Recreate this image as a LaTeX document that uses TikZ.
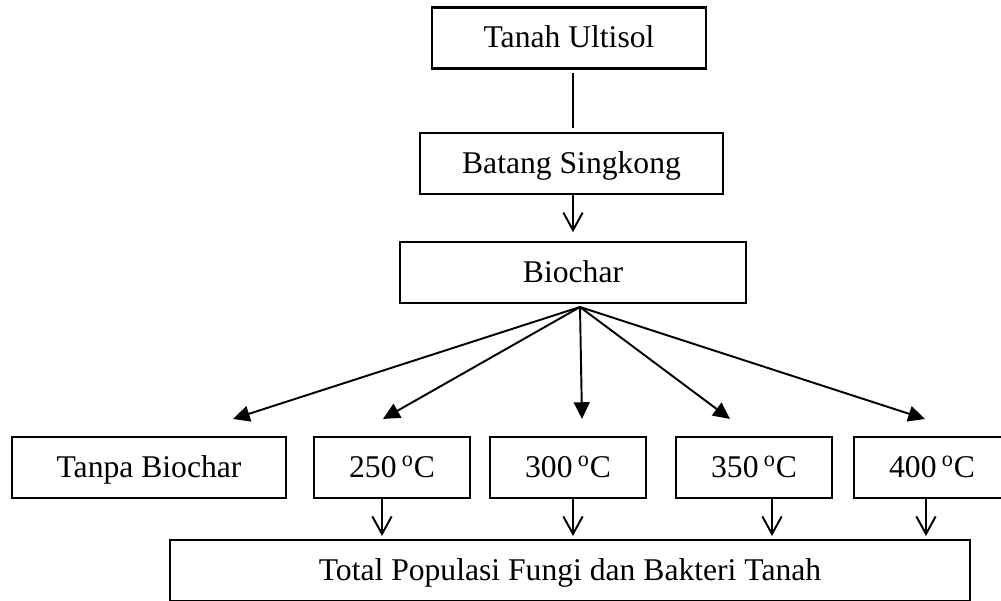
\documentclass[tikz,border=0pt]{standalone}
\usepackage{fontspec}
\setmainfont{Liberation Serif}
\usetikzlibrary{arrows.meta}

\begin{document}
\begin{tikzpicture}[x=0.02cm, y=-0.02cm,
  box/.style={draw, line width=1.2pt, minimum height=1.22cm, inner sep=0pt, text height=15pt, text depth=4pt, font=\fontsize{18}{22}\selectfont},
  link/.style={line width=1.1pt},
  openarrow/.style={link, -{Straight Barb[length=10pt,width=11pt]}},
  fillarrow/.style={link, -{Triangle[length=9.5pt,width=9pt]}}]
\useasboundingbox (0,0) rectangle (1001,600);
\clip (0,0) rectangle (1001,600);
\node[box, minimum width=5.48cm] (ultisol) at (569,38) {Tanah Ultisol};
\node[box, minimum width=6.06cm] (singkong) at (571.5,163.5) {Batang Singkong};
\node[box, minimum width=6.92cm] (biochar) at (573,272.5) {Biochar};
\node[box, minimum width=5.48cm] (tanpa) at (149,467.5) {Tanpa Biochar};
\node[box, minimum width=3.12cm] (t250) at (392,467.5) {250\,\textsuperscript{o}C};
\node[box, minimum width=3.12cm] (t300) at (568,467.5) {300\,\textsuperscript{o}C};
\node[box, minimum width=3.12cm] (t350) at (754,467.5) {350\,\textsuperscript{o}C};
\node[box, minimum width=3.12cm] (t400) at (932,467.5) {400\,\textsuperscript{o}C};
\node[box, minimum width=16cm] (total) at (570,570.5) {Total Populasi Fungi dan Bakteri Tanah};
\coordinate (fan) at (580,307);
\draw[link, shorten <=2pt, shorten >=2pt] (ultisol.south -| biochar.north) -- (singkong.north -| biochar.north);
\draw[openarrow, shorten >=5pt] (singkong.south -| biochar.north) -- (biochar.north);
\foreach \n/\dx in {tanpa/84, t250/-9, t300/14, t350/-24, t400/-7}
  \draw[fillarrow] (fan) -- ([shift={(\dx,-17)}]\n.north);
\foreach \n/\dx in {t250/-10, t300/5, t350/18, t400/-6}
  \draw[openarrow, shorten >=1.7pt] ([shift={(\dx,0)}]\n.south) -- ([shift={(\dx,0)}]\n.south |- total.north);
\end{tikzpicture}
\end{document}
